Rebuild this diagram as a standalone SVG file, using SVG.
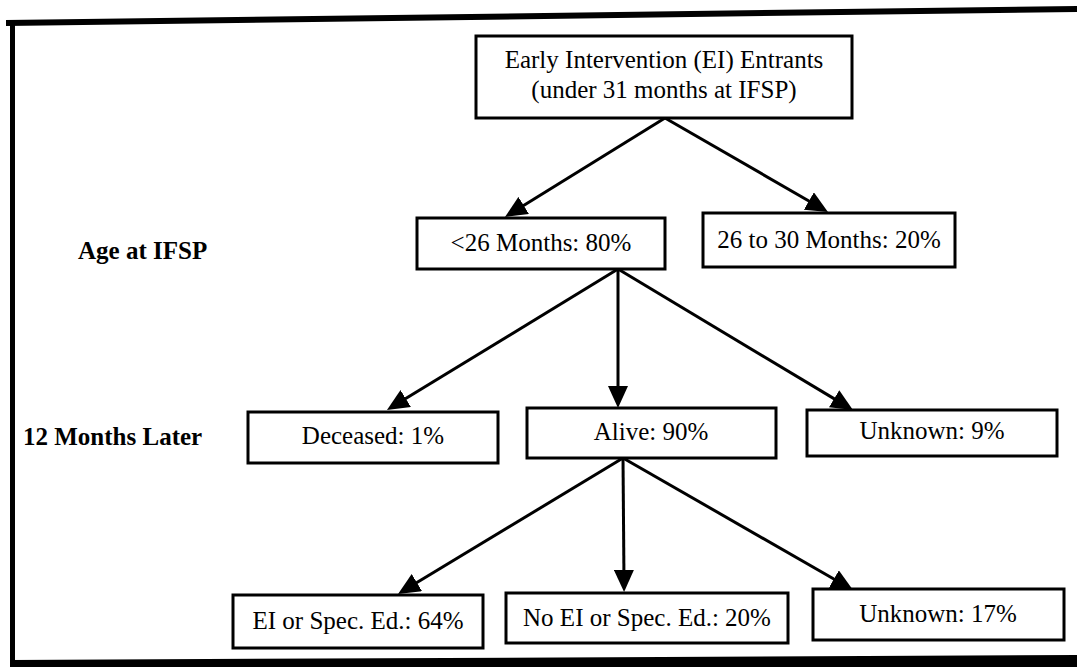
<svg xmlns="http://www.w3.org/2000/svg" width="1077" height="669" viewBox="0 0 1077 669">
<style>
.box{fill:#fff;stroke:#000;stroke-width:3}
.t{font-family:"Liberation Serif","Times New Roman",serif;font-size:25px;fill:#000;text-anchor:middle}
.lbl{font-family:"Liberation Serif","Times New Roman",serif;font-size:25px;font-weight:bold;fill:#000}
.c{stroke:#000;stroke-width:3;fill:none;marker-end:url(#ah)}
</style>
<defs>
<marker id="ah" markerUnits="userSpaceOnUse" viewBox="0 0 22 20" markerWidth="22" markerHeight="20" refX="12" refY="10" orient="auto">
<path d="M0,0 L22,10 L0,20 z" fill="#000"/>
</marker>
</defs>
<rect width="1077" height="669" fill="#fff"/>
<g id="frame">
<polygon points="6,20 1077,6 1077,12 6,26" fill="#000"/>
<rect x="10" y="22" width="5" height="645" fill="#000"/>
<polygon points="10,660 1077,655 1077,667 10,667" fill="#000"/>
</g>
<g id="labels">
<text class="lbl" x="78" y="259">Age at IFSP</text>
<text class="lbl" x="23" y="445">12 Months Later</text>
</g>
<g id="connectors">
<line class="c" x1="665" y1="118" x2="513.5" y2="211.7"/>
<line class="c" x1="665" y1="118" x2="819.3" y2="207"/>
<line class="c" x1="618" y1="269" x2="395.5" y2="404.8"/>
<line class="c" x1="618" y1="269" x2="618" y2="398"/>
<line class="c" x1="618" y1="269" x2="844.4" y2="404.9"/>
<line class="c" x1="623" y1="458" x2="406.6" y2="588.8"/>
<line class="c" x1="623" y1="458" x2="624" y2="582"/>
<line class="c" x1="623" y1="458" x2="844.3" y2="585"/>
</g>
<g id="n-entrants">
<rect class="box" x="476" y="36" width="376" height="82"/>
<text class="t" x="664" y="68">Early Intervention (EI) Entrants</text>
<text class="t" x="664" y="98">(under 31 months at IFSP)</text>
</g>
<g id="n-lt26">
<rect class="box" x="417" y="218" width="248" height="51"/>
<text class="t" x="541" y="251">&lt;26 Months: 80%</text>
</g>
<g id="n-26to30">
<rect class="box" x="703" y="213" width="252" height="54"/>
<text class="t" x="829" y="248">26 to 30 Months: 20%</text>
</g>
<g id="n-deceased">
<rect class="box" x="248" y="412" width="250" height="51"/>
<text class="t" x="373" y="444">Deceased: 1%</text>
</g>
<g id="n-alive">
<rect class="box" x="527" y="408" width="249" height="50"/>
<text class="t" x="651" y="440">Alive: 90%</text>
</g>
<g id="n-unknown9">
<rect class="box" x="807" y="410" width="250" height="46"/>
<text class="t" x="932" y="439">Unknown: 9%</text>
</g>
<g id="n-ei">
<rect class="box" x="233" y="595" width="250" height="53"/>
<text class="t" x="358" y="629">EI or Spec. Ed.: 64%</text>
</g>
<g id="n-noei">
<rect class="box" x="506" y="593" width="282" height="50"/>
<text class="t" x="647" y="626">No EI or Spec. Ed.: 20%</text>
</g>
<g id="n-unknown17">
<rect class="box" x="813" y="589" width="251" height="51"/>
<text class="t" x="938" y="622">Unknown: 17%</text>
</g>
</svg>
